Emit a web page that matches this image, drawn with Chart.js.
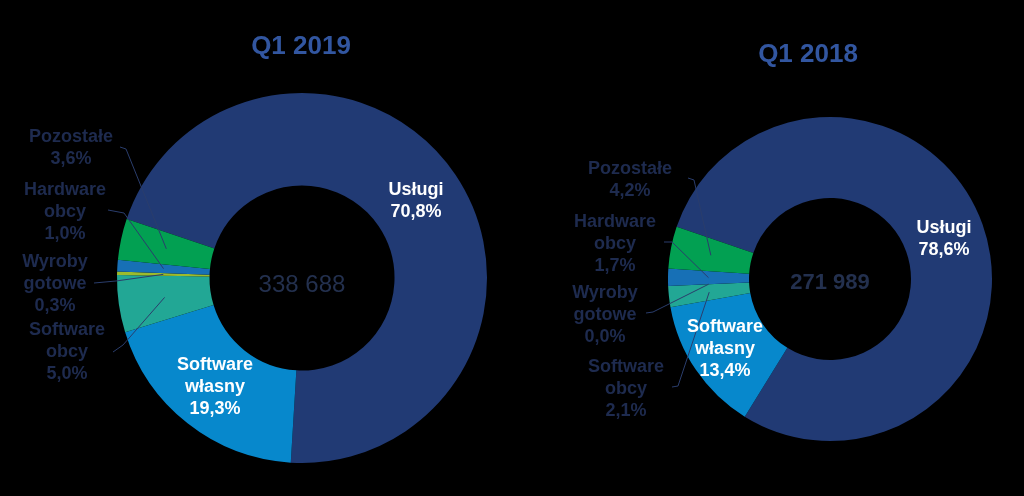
<!DOCTYPE html>
<html><head><meta charset="utf-8">
<script src="https://cdn.jsdelivr.net/npm/chart.js@4.4.1/dist/chart.umd.min.js"></script>
<style>
html,body{margin:0;padding:0;background:#000;width:1024px;height:496px;overflow:hidden}
canvas{position:absolute;top:0}
#c1{left:0}
#c2{left:520px}
</style></head><body>
<canvas id="c1" width="520" height="496"></canvas>
<canvas id="c2" width="504" height="496"></canvas>
<script>
// ---- data ----
const categories = ['Usługi', 'Software własny', 'Software obcy', 'Wyroby gotowe', 'Hardware obcy', 'Pozostałe'];
const labelLines = [['Usługi'], ['Software', 'własny'], ['Software', 'obcy'], ['Wyroby', 'gotowe'], ['Hardware', 'obcy'], ['Pozostałe']];
const values2019 = [70.8, 19.3, 5.0, 0.3, 1.0, 3.6];
const values2018 = [78.6, 13.4, 2.1, 0.0, 1.7, 4.2];
const titles = ['Q1 2019', 'Q1 2018'];
const totals = ['338 688', '271 989'];

// ---- style / layout ----
const colors = ['#213a74', '#0788cc', '#22a795', '#9cbb2c', '#1770b6', '#02a052'];
const FONT = "'Liberation Sans', Arial, sans-serif";
const LH = 22;

const layouts = [
  {
    padding: {left: 117, right: 33, top: 93, bottom: 33},
    rotation: 288.6,
    title: {x: 301, y: 47},
    center: {dy: 7, font: 'normal 24px ' + FONT},
    labels: [
      {x: 416, y: 190, inside: true},
      {x: 215, y: 365, inside: true},
      {x: 67, y: 330, leader: [[113, 352], [123, 345]]},
      {x: 55, y: 262, leader: [[94, 283], [116, 281]]},
      {x: 65, y: 190, leader: [[108, 210], [124, 213]]},
      {x: 71, y: 137, leader: [[120, 147], [126, 149]]}
    ]
  },
  {
    padding: {left: 148, right: 32, top: 117, bottom: 55},
    rotation: 288.8,
    title: {x: 288, y: 55},
    center: {dy: 4, font: 'bold 22px ' + FONT},
    labels: [
      {x: 424, y: 228, inside: true},
      {x: 205, y: 327, inside: true},
      {x: 106, y: 367, leader: [[152, 387], [158, 386]]},
      {x: 85, y: 293, leader: [[126, 313], [133, 312]]},
      {x: 95, y: 222, leader: [[144, 242], [152, 242]]},
      {x: 110, y: 169, leader: [[168, 178], [174, 180]]}
    ]
  }
];

function fmt(v) { return v.toFixed(1).replace('.', ',') + '%'; }

const annotate = {
  id: 'annotate',
  afterDraw(chart) {
    const L = chart.options.plugins.annotate.layout;
    const idx = chart.options.plugins.annotate.idx;
    const ctx = chart.ctx;
    const meta = chart.getDatasetMeta(0);
    const values = chart.data.datasets[0].data;
    const arc0 = meta.data[0];
    ctx.save();
    ctx.textAlign = 'center';
    ctx.textBaseline = 'middle';
    // title
    ctx.fillStyle = '#3256a0';
    ctx.font = 'bold 26px ' + FONT;
    ctx.fillText(titles[idx], L.title.x, L.title.y);
    // center total
    ctx.fillStyle = '#23304e';
    ctx.font = L.center.font;
    ctx.fillText(totals[idx], arc0.x, arc0.y + L.center.dy);
    // leaders
    ctx.strokeStyle = '#2a3d6c';
    ctx.lineWidth = 1;
    L.labels.forEach((lab, i) => {
      if (!lab.leader) return;
      const p = meta.data[i].tooltipPosition();
      ctx.beginPath();
      ctx.moveTo(lab.leader[0][0], lab.leader[0][1]);
      ctx.lineTo(lab.leader[1][0], lab.leader[1][1]);
      ctx.lineTo(p.x, p.y);
      ctx.stroke();
    });
    // labels
    ctx.font = 'bold 18px ' + FONT;
    L.labels.forEach((lab, i) => {
      const lines = labelLines[i].concat([fmt(values[i])]);
      ctx.fillStyle = lab.inside ? '#ffffff' : '#1e2b4f';
      lines.forEach((t, k) => ctx.fillText(t, lab.x, lab.y + k * LH));
    });
    ctx.restore();
  }
};

function makeChart(id, values, idx) {
  const L = layouts[idx];
  return new Chart(document.getElementById(id), {
    type: 'doughnut',
    data: {
      labels: categories,
      datasets: [{
        data: values,
        backgroundColor: colors,
        borderWidth: 0,
        hoverOffset: 0,
        offset: 0
      }]
    },
    options: {
      responsive: false,
      animation: false,
      devicePixelRatio: 1,
      cutout: '50%',
      rotation: L.rotation,
      layout: {padding: L.padding},
      plugins: {
        legend: {display: false},
        tooltip: {enabled: false},
        annotate: {layout: L, idx: idx}
      },
      events: []
    },
    plugins: [annotate]
  });
}

makeChart('c1', values2019, 0);
makeChart('c2', values2018, 1);
</script>
</body></html>
